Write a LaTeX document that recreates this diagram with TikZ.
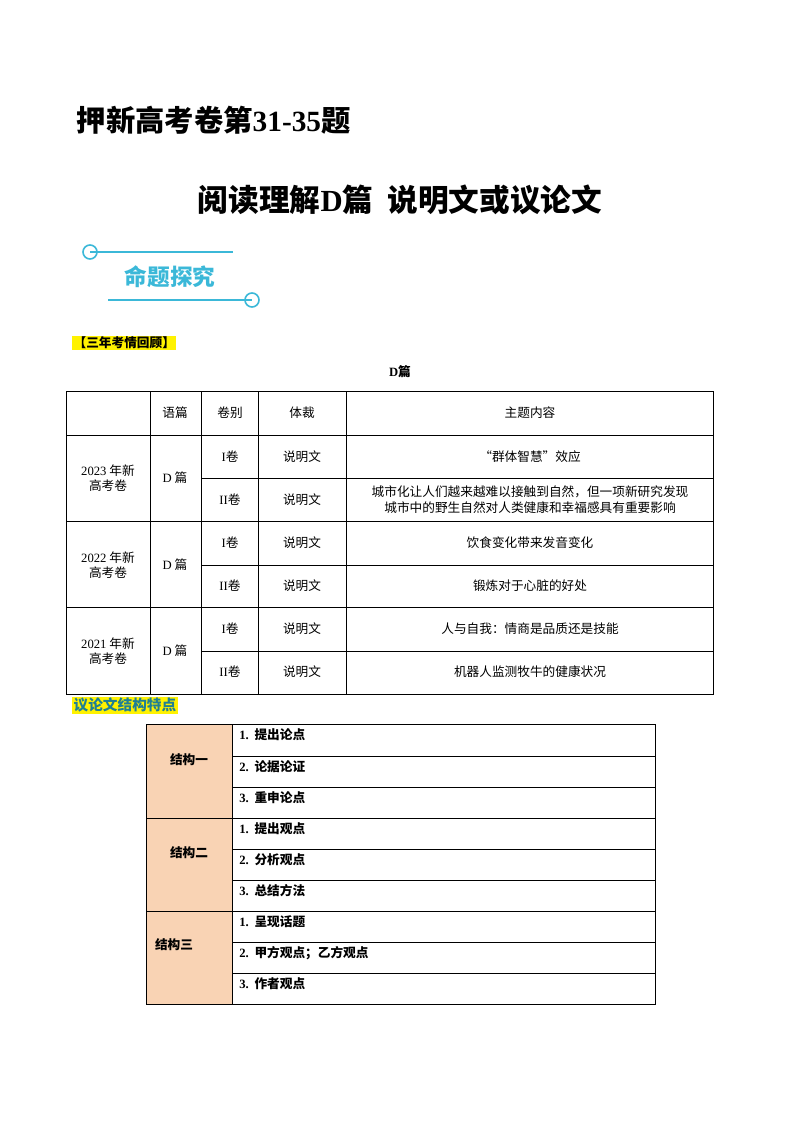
\documentclass[tikz,border=0pt]{standalone}
\usepackage{fontspec}
\setmainfont{Noto Sans CJK SC}
\newfontfamily\lat{Liberation Serif}
\definecolor{cyanb}{HTML}{3BB8D8}
\definecolor{peach}{HTML}{F9D3B4}
\definecolor{teal2}{HTML}{1F7F94}
\begin{document}
\begin{tikzpicture}[x=0.75pt,y=-0.75pt,
  cell/.style={font=\fontsize{9.5}{11}\selectfont, inner sep=0pt, align=center},
  lcell/.style={font=\fontsize{9.5}{11}\selectfont\bfseries, inner sep=0pt, anchor=west},
  tl/.style={line width=0.6pt}]
\useasboundingbox (0,0) rectangle (800,1132);
\node[anchor=west,font=\fontsize{22}{26}\selectfont\bfseries] (t1) at (72,120) {押新高考卷第{\lat\bfseries 31-35}题};
\node[font=\fontsize{23}{27}\selectfont\bfseries] (t2) at (400,200) {阅读理解{\lat\bfseries D}篇\ \ 说明文或议论文};
% banner
\draw[cyanb,line width=1.2pt] (90,252) circle (7);
\draw[cyanb,line width=1.2pt] (90,252) -- (233,252);
\draw[cyanb,line width=1.2pt] (252,300) circle (7);
\draw[cyanb,line width=1.2pt] (108,300) -- (252,300);
\node[cyanb,font=\fontsize{17}{19}\selectfont\bfseries] (b) at (170,277) {命题探究};
\node[fill=yellow,anchor=west,inner sep=1pt,font=\fontsize{9.5}{11}\selectfont\bfseries] (k) at (72,343) {【三年考情回顾】};
\node[font=\fontsize{9.5}{11}\selectfont\bfseries] (dp) at (400,372) {{\lat\bfseries D}篇};
% table 1
\begin{scope}[tl]
\draw (66,391) rectangle (713,694);
\foreach \x in {150,201,258,346} \draw (\x,391) -- (\x,694);
\foreach \y in {435,521,607} \draw (66,\y) -- (713,\y);
\foreach \y in {478,565,651} \draw (201,\y) -- (713,\y);
\end{scope}
\node[cell] at (175,413) {语篇};
\node[cell] at (230,413) {卷别};
\node[cell] at (302,413) {体裁};
\node[cell] at (530,413) {主题内容};
\foreach \yy/\yr in {478/2023,565/2022,651/2021}{
  \node[cell] at (108,\yy) {{\lat \yr} 年新\\高考卷};
  \node[cell] at (175,\yy) {{\lat D} 篇};
}
\foreach \yy/\jb in {457/I,500/II,543/I,586/II,629/I,672/II}{
  \node[cell] at (230,\yy) {{\lat \jb}卷};
  \node[cell] at (302,\yy) {说明文};
}
\node[cell] at (530,457) {“群体智慧”效应};
\node[cell,font=\fontsize{9.5}{12}\selectfont] at (530,500) {城市化让人们越来越难以接触到自然，但一项新研究发现\\城市中的野生自然对人类健康和幸福感具有重要影响};
\node[cell] at (530,543) {饮食变化带来发音变化};
\node[cell] at (530,586) {锻炼对于心脏的好处};
\node[cell] at (530,629) {人与自我：情商是品质还是技能};
\node[cell] at (530,672) {机器人监测牧牛的健康状况};
% section 2
\node[fill=yellow,text=teal2,anchor=west,inner sep=1pt,font=\fontsize{11}{13}\selectfont\bfseries] (s2) at (72,705) {议论文结构特点};
\fill[peach] (146,724) rectangle (232,1004);
\begin{scope}[tl]
\draw (146,724) rectangle (655,1004);
\draw (232,724) -- (232,1004);
\foreach \y in {818,911} \draw (146,\y) -- (655,\y);
\foreach \y in {756,787,849,880,942,973} \draw (232,\y) -- (655,\y);
\end{scope}
\node[cell,font=\fontsize{9.5}{11}\selectfont\bfseries] at (189,760) {结构一};
\node[cell,font=\fontsize{9.5}{11}\selectfont\bfseries] at (189,853) {结构二};
\node[cell,font=\fontsize{9.5}{11}\selectfont\bfseries] at (174,945) {结构三};
\foreach \yy/\n/\t in {735/1/提出论点,767/2/论据论证,798/3/重申论点,829/1/提出观点,860/2/分析观点,891/3/总结方法,922/1/呈现话题,953/2/甲方观点；乙方观点,984/3/作者观点}{
  \node[lcell] at (239,\yy) {{\lat\bfseries \n.}\ \ \t};
}
\end{tikzpicture}
\end{document}
